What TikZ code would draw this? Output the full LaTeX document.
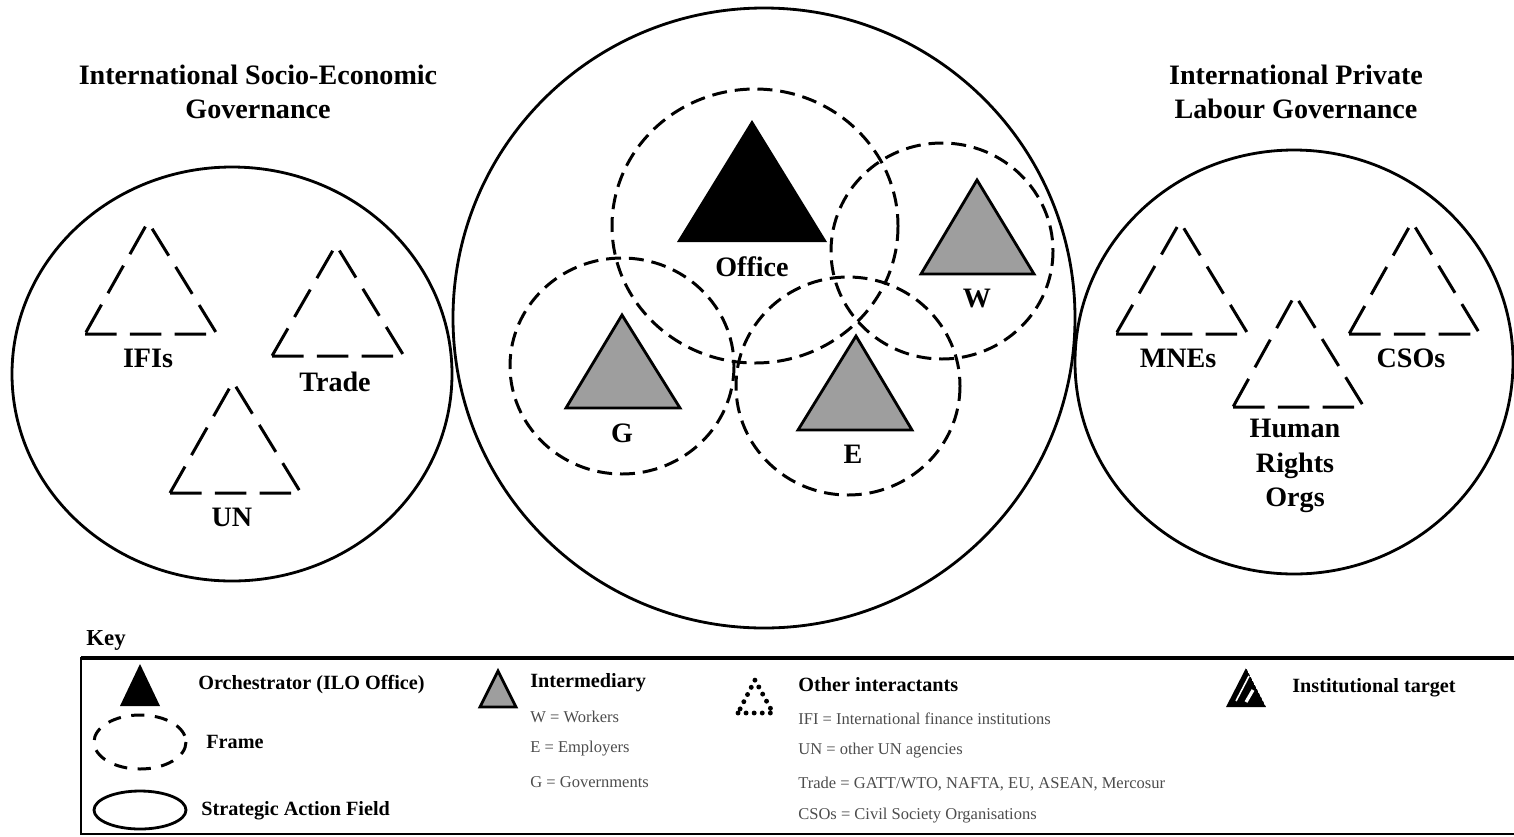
\documentclass[tikz,border=0pt]{standalone}
\usepackage{fontspec}
\setmainfont{Liberation Serif}
\begin{document}
\begin{tikzpicture}[x=0.02cm,y=-0.02cm,
  sf/.style={line width=1.6pt},
  framec/.style={line width=1.7pt, dash pattern=on 8.5pt off 4.5pt},
  other/.style={line width=1.7pt, dash pattern=on 18pt off 7.5pt},
  lbl/.style={font=\fontsize{16}{19.5}\selectfont\bfseries, align=center, inner sep=0pt},
  keyh/.style={font=\fontsize{11.5}{14}\selectfont\bfseries, anchor=west, inner sep=0pt},
  keyt/.style={font=\fontsize{9.4}{11}\selectfont, text=black!70, anchor=west, inner sep=0pt},
  inter/.style={fill=black!38, draw=black, line width=1.6pt, line join=miter},
]
\useasboundingbox (0,0) rectangle (1514,836);

% headings
\node[lbl] (h1) at (258,92) {International Socio-Economic\\Governance};
\node[lbl] (h2) at (1296,92) {International Private\\Labour Governance};

% strategic action fields
\draw[sf] (232,374) ellipse [x radius=220, y radius=207];
\draw[sf] (764,318) ellipse [x radius=311, y radius=310];
\draw[sf] (1294,362) ellipse [x radius=219, y radius=212];

% frames
\draw[framec] (755,226) ellipse [x radius=143, y radius=137];
\draw[framec] (942,251) ellipse [x radius=111, y radius=108];
\draw[framec] (622,366) ellipse [x radius=112, y radius=108];
\draw[framec] (848,386) ellipse [x radius=112, y radius=109];

% orchestrator and intermediaries
\fill (752,120) -- (827,242) -- (677,242) -- cycle;
\draw[inter] (977,180) -- (1034,274) -- (921,274) -- cycle;
\draw[inter] (622,315) -- (680,408) -- (566,408) -- cycle;
\draw[inter] (856,336) -- (912,430) -- (798,430) -- cycle;
\node[lbl] (office) at (752,267) {Office};
\node[lbl] (w) at (977,298) {W};
\node[lbl] (g) at (622,433) {G};
\node[lbl] (e) at (853,454) {E};

% other interactants (left)
\draw[other] (85,334) -- (217,334) -- (148,222) -- cycle;
\draw[other] (272,356) -- (404,356) -- (336,245) -- cycle;
\draw[other] (170,493) -- (301,493) -- (233,382) -- cycle;
\node[lbl] (ifis) at (148,358) {IFIs};
\node[lbl] (trade) at (335,382) {Trade};
\node[lbl] (un) at (232,517) {UN};

% other interactants (right)
\draw[other] (1116,334) -- (1248,334) -- (1180,222) -- cycle;
\draw[other] (1349,334) -- (1480,334) -- (1412,222) -- cycle;
\draw[other] (1233,407) -- (1364,407) -- (1295,295) -- cycle;
\node[lbl] (mnes) at (1178,358) {MNEs};
\node[lbl] (csos) at (1411,358) {CSOs};
\node[lbl] (hro) at (1295,466) {Human\\Rights\\Orgs};

% key
\node[font=\fontsize{13}{15}\selectfont\bfseries, inner sep=0pt] (key) at (106,640) {Key};
\draw[line width=2.2pt] (1520,658) -- (81,658);
\draw[line width=1.4pt] (81,657) -- (81,834) -- (1520,834);

\fill (140,664) -- (160,706) -- (120,706) -- cycle;
\node[keyh] (korch) at (198,685) {Orchestrator (ILO Office)};
\draw[line width=1.7pt, dash pattern=on 7.5pt off 6pt] (140,742) ellipse [x radius=46, y radius=27];
\node[keyh] (kframe) at (206,742) {Frame};
\draw[sf] (140,810) ellipse [x radius=46, y radius=19];
\node[keyh] (ksaf) at (201,811) {Strategic Action Field};

\draw[inter] (498,671) -- (516,707) -- (480,707) -- cycle;
\node[keyh] (kinter) at (530,683) {Intermediary};
\node[keyt] (kw) at (530,717) {W = Workers};
\node[keyt] (ke) at (530,749) {E = Employers};
\node[keyt] (kg) at (530,782) {G = Governments};

\draw[line width=2.8pt, line cap=round, dash pattern=on 0pt off 4.6pt] (738,713) -- (773,713) -- (755,680) -- cycle;
\node[keyh] (kother) at (798,685) {Other interactants};
\node[keyt] (kifi) at (798,719) {IFI = International finance institutions};
\node[keyt] (kun) at (798,751) {UN = other UN agencies};
\node[keyt] (ktrade) at (798,784) {Trade = GATT/WTO, NAFTA, EU, ASEAN, Mercosur};
\node[keyt] (kcso) at (798,816) {CSOs = Civil Society Organisations};

\begin{scope}
\path[clip] (1246,668) -- (1266,707) -- (1226,707) -- cycle;
\fill (1246,668) -- (1266,707) -- (1226,707) -- cycle;
\draw[white, line width=0.9pt] (1236,701) -- (1249,676);
\draw[white, line width=1.8pt] (1246,702) -- (1253,690);
\end{scope}
\node[keyh] (ktarget) at (1292,688) {Institutional target};
\end{tikzpicture}
\end{document}
